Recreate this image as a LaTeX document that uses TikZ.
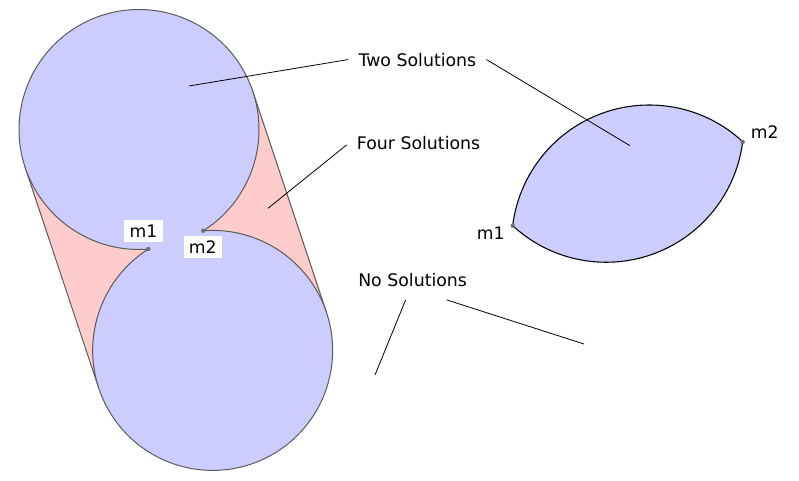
\documentclass[tikz,border=0pt]{standalone}
\usepackage{fontspec}
\setmainfont{DejaVu Sans}
\usepackage{tikz}
\usetikzlibrary{calc, positioning}
\definecolor{blobBlue}{HTML}{CCCCFF}
\definecolor{blobPink}{HTML}{FFCCCC}
\definecolor{rimGray}{HTML}{5A5A5A}
\definecolor{dotGray}{HTML}{707070}
\def\rad{120}
\def\lensrad{137.6}
\newcommand{\MarkDot}[1]{
    \fill[dotGray] (#1) circle (2.2);
}
\tikzset{
    sol/.style={font=\fontsize{13}{15}\selectfont, inner xsep=7.5pt, inner ysep=2pt, anchor=base west},
    tag/.style={font=\fontsize{12.9}{15}\selectfont, inner xsep=0pt, inner ysep=0pt, anchor=base west},
    tagbox/.style={tag, fill=white, inner xsep=4pt, inner ysep=3.5pt},
    leader/.style={draw=black, line width=0.6pt},
    rim/.style={draw=rimGray, line width=0.75pt}
}

\begin{document}
\begin{tikzpicture}[x=0.75pt, y=0.75pt]
    \useasboundingbox (0,0) rectangle (799,480);

    % The two circles
    \coordinate (C1) at (139,350.5);
    \coordinate (C2) at (212.6,129.8);
    \coordinate (m1) at (148.3,231);
    \coordinate (m2) at (203.3,249.3);

    % Hull between the circles
    \fill[blobPink] ($(C1)+(18.43:\rad)$) -- ($(C2)+(18.43:\rad)$) -- ($(C2)+(198.43:\rad)$) -- ($(C1)+(198.43:\rad)$) -- cycle;
    \draw[rim] ($(C1)+(18.43:\rad)$) -- ($(C2)+(18.43:\rad)$);
    \draw[rim] ($(C1)+(198.43:\rad)$) -- ($(C2)+(198.43:\rad)$);

    \fill[blobBlue] (C1) circle (\rad);
    \fill[blobBlue] (C2) circle (\rad);
    \draw[rim] ($(C1)+(-57.57:\rad)$) arc[start angle=-57.57, end angle=274.45, radius=\rad]
        arc[start angle=122.43, end angle=454.45, radius=\rad];
    \MarkDot{m1} \MarkDot{m2}
    \node[tagbox] (m1a) at (124,242.7) {m1};
    \node[tagbox] (m2a) at (183.3,226.7) {m2};

    % The lens
    \coordinate (T) at (649.2,237.4);
    \coordinate (B) at (606.2,355.2);
    \coordinate (n1) at (512.7,254.3);
    \coordinate (n2) at (742.7,338);
    \draw[fill=blobBlue, draw=black, line width=0.8pt] ($(T)+(47.2:\lensrad)$) arc[start angle=47.2, end angle=172.9, radius=\lensrad]
        arc[start angle=227.2, end angle=352.9, radius=\lensrad] -- cycle;
    \MarkDot{n1} \MarkDot{n2}
    \node[tag] (n1a) at (476.7,240.7) {m1};
    \node[tag] (n2a) at (750.7,341.7) {m2};

    % Labels
    \node[sol] (twoLbl) at (348.3,414) {Two Solutions};
    \node[sol] (fourLbl) at (346.7,330.7) {Four Solutions};
    \node[sol] (noLbl) at (348,193.3) {No Solutions};

    \coordinate (twoA) at (189,394);
    \coordinate (twoB) at (630,334.3);
    \coordinate (fourA) at (268,271.7);
    \coordinate (noA) at (375,105);
    \coordinate (noB) at (584,136);

    \draw[leader] (twoA) -- (twoLbl.west);
    \draw[leader] (twoLbl.east) -- (twoB);
    \draw[leader] (fourA) -- ([yshift=-1.5pt]fourLbl.west);
    \draw[leader] ($(noLbl.south)+(-7,-10)$) -- (noA);
    \draw[leader] ($(noLbl.south)+(34,-10)$) -- (noB);
\end{tikzpicture}
\end{document}
